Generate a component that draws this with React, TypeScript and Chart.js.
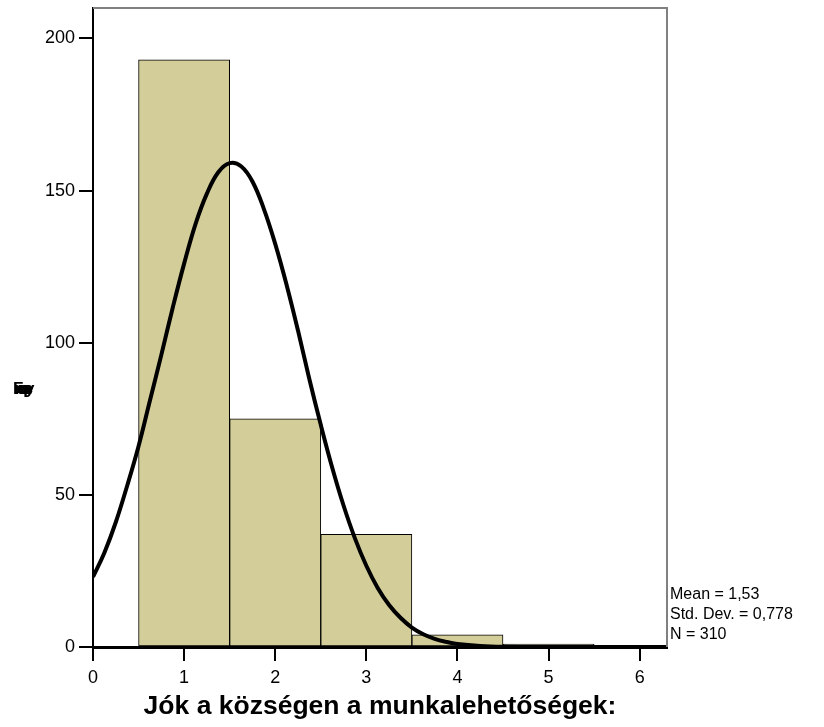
import React, { useEffect, useRef } from "react";
import { Chart, registerables } from "chart.js";

Chart.register(...registerables);

const binCenters = [1, 2, 3, 4, 5];
const binCounts = [193, 75, 37, 4, 1];
const curveX = [0, 0.125, 0.25, 0.375, 0.5, 0.625, 0.75, 0.875, 1, 1.125, 1.25, 1.375, 1.5, 1.625, 1.75, 1.875, 2, 2.125, 2.25, 2.375, 2.5, 2.625, 2.75, 2.875, 3, 3.125, 3.25, 3.375, 3.5, 3.625, 3.75, 3.875, 4, 4.25, 4.5, 5, 5.5, 6, 6.3];
const curveY = [23, 31, 41, 53, 66, 81, 96, 111.5, 126, 139, 149, 156, 159, 158, 153, 144, 132.5, 119, 104, 88, 73, 59, 46.5, 35.7, 26.7, 19.4, 13.8, 9.6, 6.4, 4.2, 2.7, 1.7, 1.0, 0.35, 0.1, 0.01, 0, 0, 0];
const xTicks = [0, 1, 2, 3, 4, 5, 6];
const yTicks = [0, 50, 100, 150, 200];
const statLines = ["Mean = 1,53", "Std. Dev. = 0,778", "N = 310"];
const xTitle = "Jók a községen a munkalehetőségek:";
const yTitle = "Frequency";

const FONT = "'Liberation Sans', Arial, sans-serif";

export default function App() {
  const ref = useRef<HTMLCanvasElement>(null);
  useEffect(() => {
    document.body.style.margin = "0";
    const ctx = ref.current!.getContext("2d")!;
    const framePlugin = {
      id: "frame",
      afterDatasetsDraw(chart: any) {
        const { ctx, chartArea } = chart;
        const { left, right, top, bottom } = chartArea;
        ctx.save();
        ctx.strokeStyle = "#808080";
        ctx.lineWidth = 2;
        ctx.beginPath();
        ctx.moveTo(left, top);
        ctx.lineTo(right, top);
        ctx.lineTo(right, bottom);
        ctx.stroke();
        ctx.restore();
      },
      afterDraw(chart: any) {
        const { ctx, chartArea } = chart;
        ctx.save();
        ctx.fillStyle = "#000";
        ctx.font = `16px ${FONT}`;
        ctx.textAlign = "left";
        ctx.textBaseline = "middle";
        statLines.forEach((s, i) => {
          ctx.fillText(s, chartArea.right + 3, chartArea.bottom - 52 + i * 20);
        });
        ctx.font = `bold 26.5px ${FONT}`;
        ctx.textAlign = "center";
        ctx.fillText(xTitle, (chartArea.left + chartArea.right) / 2, 707);
        // y title (rendered compressed like the reference)
        ctx.font = `bold 17px ${FONT}`;
        ctx.textAlign = "left";
        ctx.textBaseline = "alphabetic";
        const chars = yTitle.split("");
        chars.forEach((c, i) => {
          ctx.fillText(c, 13 + i * 1.5, 394);
        });
        ctx.restore();
      },
    };
    const chart = new Chart(ctx, {
      type: "bar",
      data: {
        datasets: [
          {
            type: "line",
            data: curveX.map((x, i) => ({ x, y: curveY[i] })),
            borderColor: "#000",
            borderWidth: 4,
            pointRadius: 0,
            tension: 0.4,
            fill: false,
            order: 0,
          } as any,
          {
            type: "bar",
            data: binCenters.map((x, i) => ({ x, y: binCounts[i] })),
            backgroundColor: "#d3ce99",
            borderColor: "#000",
            borderWidth: 1,
            borderSkipped: false,
            barPercentage: 1,
            categoryPercentage: 1,
            order: 1,
          } as any,
        ],
      },
      options: {
        responsive: false,
        animation: false,
        layout: { padding: { top: 8, right: 157, left: 0, bottom: 0 } },
        plugins: { legend: { display: false }, tooltip: { enabled: false } },
        scales: {
          x: {
            type: "linear",
            min: 0,
            max: 6.3,
            offset: false,
            afterBuildTicks(scale: any) {
              scale.ticks = xTicks.map((v) => ({ value: v }));
            },
            afterFit(scale: any) {
              scale.height = 80;
              scale.paddingLeft = 0;
              scale.paddingRight = 0;
            },
            grid: { offset: false, drawOnChartArea: false, drawTicks: true, tickLength: 14, color: "#000", lineWidth: 2 },
            border: { display: true, color: "#000", width: 3 },
            ticks: { color: "#000", font: { family: FONT, size: 18 }, padding: 6, maxRotation: 0 },
          },
          y: {
            type: "linear",
            min: 0,
            max: 210,
            afterBuildTicks(scale: any) {
              scale.ticks = yTicks.map((v) => ({ value: v }));
            },
            afterFit(scale: any) {
              scale.width = 93;
              scale.paddingTop = 0;
              scale.paddingBottom = 0;
            },
            grid: { drawOnChartArea: false, drawTicks: true, tickLength: 14, color: "#000", lineWidth: 2 },
            border: { display: true, color: "#000", width: 2 },
            ticks: { color: "#000", font: { family: FONT, size: 18 }, padding: 4 },
          },
        },
      },
      plugins: [framePlugin],
    });
    return () => chart.destroy();
  }, []);
  return <canvas ref={ref} width={824} height={727} style={{ display: "block" }} />;
}
